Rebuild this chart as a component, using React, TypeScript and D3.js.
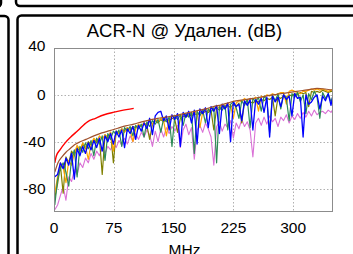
import React, { useRef, useEffect } from "react";
import * as d3 from "d3";

// measured frequency points (MHz) of the pairs
const freqs = [
  1, 4.5, 8, 11.5, 15, 18.5, 22, 25.5, 29, 32.5,
  36, 39.5, 43, 46.5, 50, 53.5, 57, 60.5, 64, 67.5,
  71, 74.5, 78, 81.5, 85, 88.5, 92, 95.5, 99, 102.5,
  106, 109.5, 113, 116.5, 120, 123.5, 127, 130.5, 134, 137.5,
  141, 144.5, 148, 151.5, 155, 158.5, 162, 165.5, 169, 172.5,
  176, 179.5, 183, 186.5, 190, 193.5, 197, 200.5, 204, 207.5,
  211, 214.5, 218, 221.5, 225, 228.5, 232, 235.5, 239, 242.5,
  246, 249.5, 253, 256.5, 260, 263.5, 267, 270.5, 274, 277.5,
  281, 284.5, 288, 291.5, 295, 298.5, 302, 305.5, 309, 312.5,
  316, 319.5, 323, 326.5, 330, 333.5, 337, 340.5, 344, 347.5,
  350,
];

const blue = [
  -70, -68, -58, -63, -54, -60, -50, -72, -46, -52,
  -44, -50, -41, -47, -39, -45, -37, -48, -35, -40,
  -33, -42, -31, -36, -30, -45, -29, -33, -27, -38,
  -26, -31, -24, -29, -20, -34, -18, -15, -14, -22,
  -18, -30, -17, -21, -16, -44, -15, -19, -14, -24,
  -13, -42, -12, -16, -11, -28, -10, -14, -9, -33,
  -8, -12, -7, -40, -6, -10, -8, -22, -5, -9,
  -4, -30, -4, -8, -3, -15, -2, -36, -1, -6,
  -2, -10, 0, -4, -1, -18, 1, -3, -2, -36,
  0, -8, -6, -2, 0, -12, -1, -5, 1, -9,
  0,
];

const green = [
  -94, -72, -63, -58, -66, -78, -55, -47, -70, -44,
  -49, -41, -46, -39, -52, -37, -42, -35, -56, -33,
  -38, -31, -34, -30, -44, -28, -31, -27, -35, -26,
  -29, -25, -36, -23, -27, -22, -25, -21, -32, -20,
  -23, -19, -44, -18, -21, -17, -26, -16, -19, -15,
  -50, -14, -18, -13, -24, -12, -15, -11, -58, -10,
  -13, -9, -30, -8, -6, -11, -20, -5, -9, -4,
  -28, -3, -6, -2, -14, -1, -4, -32, 0, -5,
  1, -12, 0, -3, -22, 1, -2, 2, -6, 0,
  -16, 1, -4, 3, -2, -20, 2, -3, 1, -6,
  -1,
];

const olive = [
  -88, -76, -60, -84, -53, -58, -48, -52, -45, -48,
  -42, -46, -40, -43, -38, -41, -37, -68, -34, -38,
  -32, -58, -31, -33, -29, -31, -28, -30, -27, -28,
  -26, -27, -24, -26, -38, -25, -22, -24, -21, -23,
  -21, -22, -20, -21, -32, -20, -18, -19, -17, -18,
  -16, -17, -15, -16, -14, -15, -13, -30, -11, -13,
  -10, -12, -9, -11, -8, -10, -7, -24, -6, -8,
  -6, -7, -5, -6, -4, -5, -3, -4, -2, -18,
  -2, -3, -1, -2, 0, -1, 1, 0, 2, 1,
  2, -10, 3, 2, 3, 2, 4, 3, 2, 3,
  3,
];

const orange = [
  -84, -70, -58, -62, -75, -56, -60, -50, -43, -47,
  -41, -44, -55, -42, -37, -40, -35, -38, -34, -36,
  -32, -48, -31, -33, -29, -32, -28, -30, -40, -29,
  -25, -27, -24, -26, -22, -25, -21, -23, -20, -22,
  -35, -21, -18, -20, -17, -19, -16, -18, -15, -17,
  -14, -16, -28, -15, -12, -14, -11, -12, -10, -11,
  -8, -10, -7, -9, -20, -7, -5, -6, -3, -5,
  -3, -4, -2, -14, -1, -2, 0, -1, 1, 0,
  1, 2, 2, -8, 3, 4, 3, 2, 1, 3,
  3, 4, 5, 4, 5, 4, 5, 4, 3, 4,
  5,
];

const orchid = [
  -98, -94, -86, -78, -90, -70, -74, -64, -68, -58,
  -62, -54, -58, -50, -55, -48, -52, -45, -50, -44,
  -47, -41, -45, -39, -43, -37, -42, -35, -40, -33,
  -38, -32, -36, -30, -34, -44, -31, -40, -29, -36,
  -28, -33, -27, -31, -26, -45, -30, -25, -34, -28,
  -55, -30, -26, -32, -24, -29, -36, -60, -27, -23,
  -31, -25, -28, -22, -37, -24, -29, -21, -27, -23,
  -30, -53, -24, -20, -26, -19, -25, -18, -23, -20,
  -27, -19, -22, -17, -24, -18, -21, -16, -20, -15,
  -19, -14, -18, -13, -17, -15, -14, -16, -13, -15,
  -12,
];

// smooth reference curve (brown)
const brownFreqs = [
  1, 5, 10, 15, 20, 25, 30, 40, 50, 60, 70, 80, 90, 100, 110, 120, 130, 140,
  150, 160, 170, 180, 190, 200, 210, 220, 230, 240, 250, 260, 270, 280, 290,
  300, 310, 320, 330, 340, 350,
];
const brownValues = [
  -66, -58, -53, -49, -46, -43, -41, -38, -35, -32.5, -30.5, -28.5, -26.5, -25,
  -23, -21.5, -20, -19, -18, -16.5, -15, -13.5, -12, -10, -8.5, -6.5, -5, -4,
  -3, -2, -0.5, 0.5, 1.5, 2.5, 3.5, 4.5, 5.5, 5, 4,
];

// limit line (red)
const limitFreqs = [1, 3, 7.5, 14, 21, 30, 42, 52, 63, 74, 84, 100];
const limitValues = [-58, -52, -47, -41, -36, -30.5, -23, -20, -17, -15, -13.5, -11.5];

const seriesList = [
  { values: orchid, color: "#da70d6", width: 1.1 },
  { values: olive, color: "#808000", width: 1.2 },
  { values: orange, color: "#ffa500", width: 1.2 },
  { values: green, color: "#2e8b57", width: 1.2 },
  { values: blue, color: "#0000ff", width: 1.3 },
];

const xTicks = [0, 75, 150, 225, 300];
const yTicks = [40, 0, -40, -80];

const font = "'Liberation Sans', Arial, sans-serif";

const App = () => {
  const container = useRef(null);

  const width = 353;
  const height = 254;

  useEffect(() => {
    const svg = d3.select(container.current);
    svg.selectAll("*").remove();

    svg
      .append("rect")
      .attr("width", width)
      .attr("height", height)
      .attr("fill", "white");

    // surrounding panels of the report
    const panels = [
      { x: -400, y: -50, w: 401, h: 57 },
      { x: 16, y: -50, w: 500, h: 56 },
      { x: -400, y: 16, w: 408.5, h: 400 },
      { x: 17.5, y: 15.5, w: 500, h: 400 },
    ];
    svg
      .selectAll(".panel")
      .data(panels)
      .enter()
      .append("rect")
      .attr("x", (d) => d.x)
      .attr("y", (d) => d.y)
      .attr("width", (d) => d.w)
      .attr("height", (d) => d.h)
      .attr("rx", 4)
      .attr("fill", "none")
      .attr("stroke", "black")
      .attr("stroke-width", 2.5);

    const xScale = d3.scaleLinear().domain([0, 350]).range([54, 333]);
    const yScale = d3.scaleLinear().domain([-100, 40]).range([212, 48]);

    svg
      .append("defs")
      .append("clipPath")
      .attr("id", "plot-clip")
      .append("rect")
      .attr("x", 54)
      .attr("y", 48)
      .attr("width", 279)
      .attr("height", 164);

    // grid
    svg
      .append("g")
      .selectAll("line")
      .data(xTicks.slice(1))
      .enter()
      .append("line")
      .attr("x1", (d) => Math.round(xScale(d)) + 0.5)
      .attr("x2", (d) => Math.round(xScale(d)) + 0.5)
      .attr("y1", 48)
      .attr("y2", 212)
      .attr("stroke", "#b0b0b0")
      .attr("stroke-dasharray", "1.5,2");

    svg
      .append("g")
      .selectAll("line")
      .data(yTicks.slice(1))
      .enter()
      .append("line")
      .attr("y1", (d) => Math.round(yScale(d)) + 0.5)
      .attr("y2", (d) => Math.round(yScale(d)) + 0.5)
      .attr("x1", 54)
      .attr("x2", 333)
      .attr("stroke", "#b0b0b0")
      .attr("stroke-dasharray", "1.5,2");

    // curves
    const line = d3
      .line()
      .x((d) => xScale(d[0]))
      .y((d) => yScale(d[1]));

    const smooth = d3
      .line()
      .curve(d3.curveMonotoneX)
      .x((d) => xScale(d[0]))
      .y((d) => yScale(d[1]));

    const plot = svg.append("g").attr("clip-path", "url(#plot-clip)");

    seriesList.forEach((s) => {
      plot
        .append("path")
        .attr("d", line(freqs.map((f, i) => [f, s.values[i]])))
        .attr("fill", "none")
        .attr("stroke", s.color)
        .attr("stroke-width", s.width)
        .attr("stroke-linejoin", "round");
    });

    plot
      .append("path")
      .attr("d", smooth(brownFreqs.map((f, i) => [f, brownValues[i]])))
      .attr("fill", "none")
      .attr("stroke", "#a0522d")
      .attr("stroke-width", 1.2);

    plot
      .append("path")
      .attr("d", smooth(limitFreqs.map((f, i) => [f, limitValues[i]])))
      .attr("fill", "none")
      .attr("stroke", "#ff0000")
      .attr("stroke-width", 1.4);

    // plot frame
    svg
      .append("rect")
      .attr("x", 54.5)
      .attr("y", 48.5)
      .attr("width", 278)
      .attr("height", 163)
      .attr("fill", "none")
      .attr("stroke", "#8c8c8c")
      .attr("stroke-width", 1);

    // tick labels
    svg
      .append("g")
      .selectAll("text")
      .data(xTicks)
      .enter()
      .append("text")
      .attr("x", (d) => xScale(d))
      .attr("y", 232.5)
      .attr("text-anchor", "middle")
      .style("font-family", font)
      .style("font-size", "15.5px")
      .text((d) => d);

    svg
      .append("g")
      .selectAll("text")
      .data(yTicks)
      .enter()
      .append("text")
      .attr("x", 45.5)
      .attr("y", (d) => yScale(d) + (d === 40 ? -3 : 0))
      .attr("dy", "0.36em")
      .attr("text-anchor", "end")
      .style("font-family", font)
      .style("font-size", "15.5px")
      .text((d) => d);

    // title and axis label
    svg
      .append("text")
      .attr("x", 184.5)
      .attr("y", 37.3)
      .attr("text-anchor", "middle")
      .style("font-family", font)
      .style("font-size", "18.5px")
      .text("ACR-N @ Удален. (dB)");

    svg
      .append("text")
      .attr("x", 184.5)
      .attr("y", 254.5)
      .attr("text-anchor", "middle")
      .style("font-family", font)
      .style("font-size", "15.5px")
      .text("MHz");
  }, []);

  return (
    <div style={{ width: width, height: height, position: "absolute", left: 0, top: 0 }}>
      <svg ref={container} width={width} height={height} style={{ display: "block" }} />
    </div>
  );
};

export default App;
